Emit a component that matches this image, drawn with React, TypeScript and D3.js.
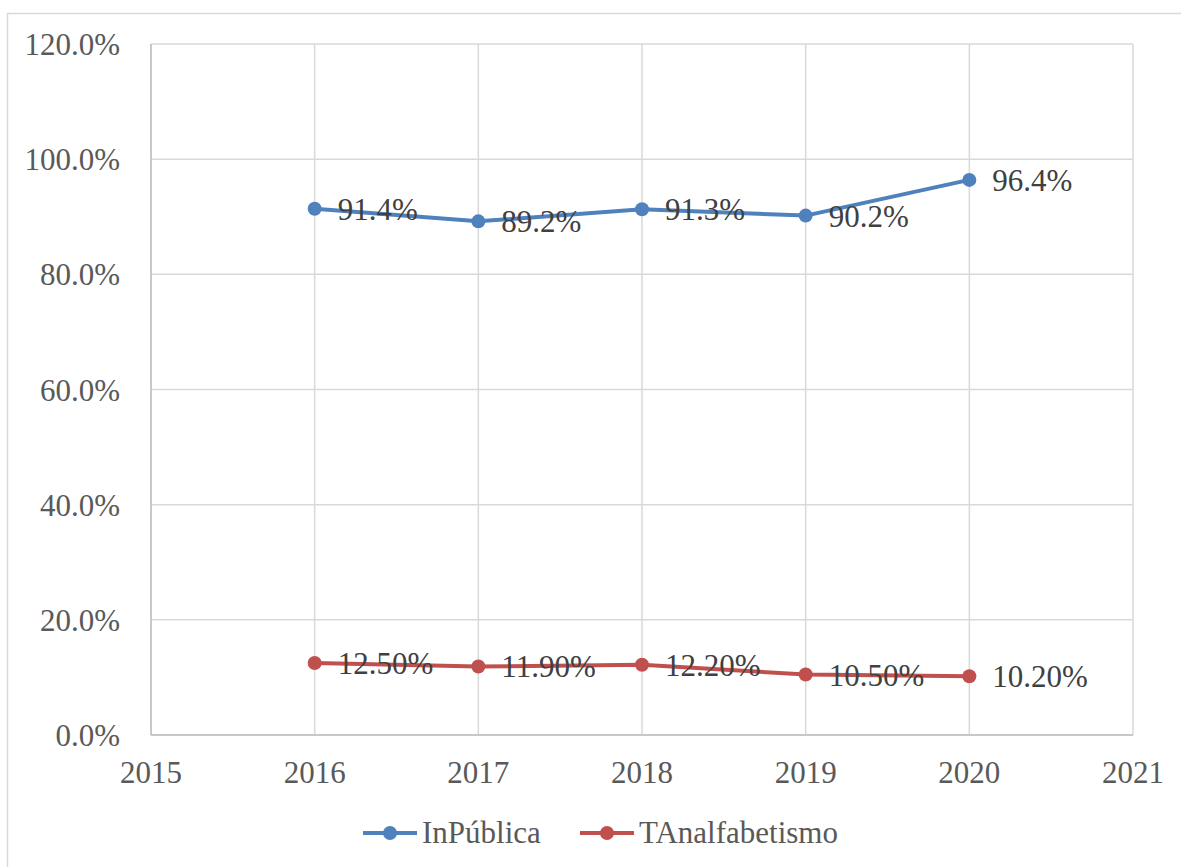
import React, { useEffect, useRef } from 'react';
import * as d3 from 'd3';

const years: number[] = [2016, 2017, 2018, 2019, 2020];
const inPublica: number[] = [91.4, 89.2, 91.3, 90.2, 96.4];
const tAnalfabetismo: number[] = [12.5, 11.9, 12.2, 10.5, 10.2];
const yTicks: number[] = [0, 20, 40, 60, 80, 100, 120];
const xTicks: number[] = [2015, 2016, 2017, 2018, 2019, 2020, 2021];

interface Series {
  name: string;
  values: number[];
  color: string;
  fmt: (v: number) => string;
}

const series: Series[] = [
  { name: 'InPública', values: inPublica, color: '#4F81BD', fmt: (v) => v.toFixed(1) + '%' },
  { name: 'TAnalfabetismo', values: tAnalfabetismo, color: '#C0504D', fmt: (v) => v.toFixed(2) + '%' },
];

const App: React.FC = () => {
  const chartRef = useRef<SVGSVGElement | null>(null);

  useEffect(() => {
    if (!chartRef.current) return;

    const width = 1181;
    const height = 867;
    const left = 151;
    const right = 1133;
    const top = 44;
    const bottom = 735;
    const font = 'Times New Roman, Liberation Serif, Tinos, DejaVu Serif, serif';
    const fontSize = 31;

    const svg = d3.select(chartRef.current);
    svg.selectAll('*').remove();
    svg.attr('width', width).attr('height', height).attr('font-family', font);

    // chart frame
    svg
      .append('rect')
      .attr('x', 7.5)
      .attr('y', 13.5)
      .attr('width', width + 10)
      .attr('height', height + 10)
      .attr('fill', '#fff')
      .attr('stroke', '#d9d9d9')
      .attr('stroke-width', 1.5);

    const x = d3.scaleLinear().domain([2015, 2021]).range([left, right]);
    const y = d3.scaleLinear().domain([0, 120]).range([bottom, top]);

    // gridlines
    svg
      .append('g')
      .selectAll('line')
      .data(yTicks)
      .enter()
      .append('line')
      .attr('x1', left)
      .attr('x2', right)
      .attr('y1', (d) => y(d))
      .attr('y2', (d) => y(d))
      .attr('stroke', '#d9d9d9')
      .attr('stroke-width', 1.5);

    svg
      .append('g')
      .selectAll('line')
      .data(xTicks)
      .enter()
      .append('line')
      .attr('x1', (d) => x(d))
      .attr('x2', (d) => x(d))
      .attr('y1', top)
      .attr('y2', bottom)
      .attr('stroke', '#d9d9d9')
      .attr('stroke-width', 1.5);

    // axes lines
    svg
      .append('line')
      .attr('x1', left)
      .attr('x2', left)
      .attr('y1', top)
      .attr('y2', bottom)
      .attr('stroke', '#bfbfbf')
      .attr('stroke-width', 1.5);
    svg
      .append('line')
      .attr('x1', left)
      .attr('x2', right)
      .attr('y1', bottom)
      .attr('y2', bottom)
      .attr('stroke', '#bfbfbf')
      .attr('stroke-width', 1.5);

    // tick labels
    svg
      .append('g')
      .selectAll('text')
      .data(yTicks)
      .enter()
      .append('text')
      .text((d) => d.toFixed(1) + '%')
      .attr('x', 120)
      .attr('y', (d) => y(d) + 11)
      .attr('text-anchor', 'end')
      .attr('font-size', fontSize)
      .attr('fill', '#595959');

    svg
      .append('g')
      .selectAll('text')
      .data(xTicks)
      .enter()
      .append('text')
      .text((d) => String(d))
      .attr('x', (d) => x(d))
      .attr('y', 783)
      .attr('text-anchor', 'middle')
      .attr('font-size', fontSize)
      .attr('fill', '#595959');

    const line = d3
      .line<number>()
      .x((_, i) => x(years[i]))
      .y((d) => y(d));

    series.forEach((s) => {
      const g = svg.append('g');
      g.append('path')
        .attr('d', line(s.values))
        .attr('fill', 'none')
        .attr('stroke', s.color)
        .attr('stroke-width', 4)
        .attr('stroke-linejoin', 'round');
      g.selectAll('circle')
        .data(s.values)
        .enter()
        .append('circle')
        .attr('cx', (_, i) => x(years[i]))
        .attr('cy', (d) => y(d))
        .attr('r', 7)
        .attr('fill', s.color);
    });

    // data labels
    series.forEach((s) => {
      svg
        .append('g')
        .selectAll('text')
        .data(s.values)
        .enter()
        .append('text')
        .text((d) => s.fmt(d))
        .attr('x', (_, i) => x(years[i]) + 23)
        .attr('y', (d) => y(d) + 11)
        .attr('font-size', fontSize)
        .attr('fill', '#404040');
    });

    // legend
    const legendY = 833;
    const legendItems = [
      { s: series[0], x0: 363 },
      { s: series[1], x0: 580 },
    ];
    legendItems.forEach(({ s, x0 }) => {
      svg
        .append('line')
        .attr('x1', x0)
        .attr('x2', x0 + 54)
        .attr('y1', legendY)
        .attr('y2', legendY)
        .attr('stroke', s.color)
        .attr('stroke-width', 4);
      svg
        .append('circle')
        .attr('cx', x0 + 27)
        .attr('cy', legendY)
        .attr('r', 7)
        .attr('fill', s.color);
      svg
        .append('text')
        .text(s.name)
        .attr('x', x0 + 59)
        .attr('y', legendY + 10)
        .attr('font-size', fontSize)
        .attr('fill', '#595959');
    });
  }, []);

  return (
    <svg
      ref={chartRef}
      style={{ position: 'absolute', left: 0, top: 0, display: 'block' }}
    ></svg>
  );
};

export default App;
